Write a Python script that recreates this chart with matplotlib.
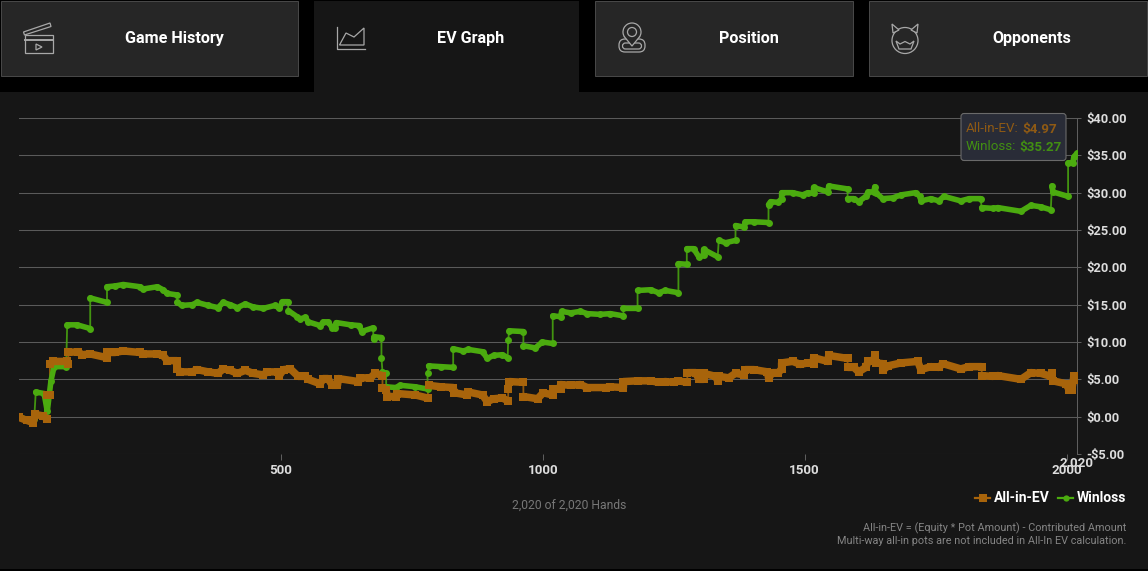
import numpy as np
import matplotlib
matplotlib.use("Agg")
import matplotlib.pyplot as plt
from matplotlib.patches import Rectangle, FancyBboxPatch, Circle, Polygon, Arc

plt.rcParams["font.family"] = ["Roboto", "DejaVu Sans"]

W, H = 1148, 571

ORANGE = "#a8640b"
GREEN = "#4bab0f"

tab_names = ["Game History", "EV Graph", "Position", "Opponents"]
y_ticks = [-5, 0, 5, 10, 15, 20, 25, 30, 35, 40]
y_labels = ["-$5.00", "$0.00", "$5.00", "$10.00", "$15.00", "$20.00", "$25.00", "$30.00", "$35.00", "$40.00"]
x_ticks = [500, 1000, 1500, 2000]
x_labels = ["500", "1000", "1500", "2000"]

ev_hands = [0, 15, 27, 31, 46, 54, 54, 59, 59, 65, 92, 94, 94, 113, 120, 136, 168, 168, 183, 199,
            231, 237, 264, 275, 283, 302, 302, 308, 331, 340, 361, 380, 390, 403, 417, 432, 447, 466, 474, 495,
            497, 505, 518, 533, 547, 552, 575, 581, 590, 598, 608, 610, 648, 652, 671, 680, 694, 694, 701, 703,
            719, 722, 757, 780, 782, 805, 829, 831, 856, 858, 885, 894, 906, 923, 934, 934, 936, 963, 963, 990,
            1001, 1019, 1019, 1034, 1034, 1053, 1072, 1085, 1120, 1129, 1154, 1154, 1181, 1206, 1221, 1234, 1250, 1259, 1276, 1276,
            1292, 1298, 1307, 1307, 1330, 1334, 1336, 1355, 1368, 1384, 1387, 1403, 1429, 1431, 1439, 1450, 1456, 1456, 1477, 1492,
            1506, 1517, 1517, 1544, 1546, 1582, 1582, 1594, 1603, 1617, 1621, 1632, 1634, 1636, 1649, 1649, 1659, 1684, 1716, 1722,
            1741, 1756, 1764, 1798, 1814, 1838, 1838, 1859, 1869, 1913, 1932, 1951, 1970, 1972, 1974, 1999, 2005, 2010, 2014, 2020]
ev_values = [-0.1, -0.5, -0.8, 0.3, 0.1, -0.3, 2.9, 2.9, 7.0, 7.4, 7.4, 7.1, 8.6, 8.7, 8.3, 8.4, 7.9, 8.6, 8.6, 8.8,
             8.6, 8.4, 8.4, 8.2, 7.5, 7.5, 6.4, 6.0, 6.0, 6.3, 6.0, 5.8, 6.4, 6.2, 5.8, 6.2, 5.8, 5.6, 6.0, 6.0,
             5.5, 6.3, 6.4, 5.4, 5.4, 5.0, 4.4, 5.1, 5.1, 4.2, 4.2, 5.1, 4.7, 5.2, 5.2, 5.8, 5.5, 3.9, 3.6, 2.7,
             2.7, 3.1, 2.9, 2.5, 4.2, 4.0, 3.9, 3.2, 2.9, 3.3, 2.9, 2.0, 2.4, 2.5, 2.1, 3.7, 4.7, 4.6, 2.7, 2.4,
             3.2, 2.9, 3.7, 3.7, 4.3, 4.2, 4.3, 3.9, 3.9, 4.0, 3.9, 4.7, 4.8, 4.8, 4.6, 4.7, 4.6, 4.8, 4.6, 5.9,
             5.9, 5.0, 5.0, 5.8, 5.4, 4.8, 5.4, 5.2, 5.8, 5.6, 6.3, 6.3, 6.0, 5.2, 5.9, 5.9, 6.4, 7.2, 7.4, 7.0,
             7.2, 7.1, 7.9, 7.4, 8.2, 7.8, 6.6, 6.6, 6.0, 6.6, 7.4, 7.5, 8.2, 7.2, 7.1, 6.2, 6.8, 7.2, 7.4, 6.3,
             6.7, 6.6, 7.1, 6.4, 6.7, 6.7, 5.5, 5.4, 5.5, 5.0, 5.9, 5.8, 5.4, 5.9, 4.8, 4.4, 3.6, 3.6, 5.4, 4.97]

win_hands = [0, 15, 29, 32, 48, 54, 61, 67, 90, 92, 111, 136, 136, 168, 168, 183, 199, 231, 237, 264,
             275, 283, 302, 302, 311, 331, 340, 361, 380, 390, 403, 417, 432, 447, 466, 489, 497, 503, 514, 514,
             531, 537, 547, 552, 575, 581, 590, 598, 604, 606, 633, 650, 654, 676, 677, 678, 692, 692, 694, 701,
             701, 719, 728, 757, 780, 780, 782, 805, 829, 829, 848, 858, 885, 894, 906, 923, 933, 934, 936, 963,
             963, 986, 999, 1019, 1019, 1034, 1036, 1053, 1072, 1085, 1110, 1129, 1154, 1154, 1181, 1181, 1206, 1221, 1234, 1259,
             1259, 1275, 1275, 1288, 1298, 1307, 1307, 1334, 1336, 1349, 1368, 1368, 1384, 1387, 1403, 1431, 1431, 1435, 1449, 1456,
             1456, 1477, 1496, 1506, 1517, 1517, 1544, 1546, 1582, 1582, 1594, 1603, 1617, 1621, 1632, 1634, 1636, 1649, 1668, 1684,
             1712, 1720, 1722, 1741, 1756, 1766, 1798, 1814, 1836, 1838, 1859, 1869, 1913, 1932, 1951, 1970, 1972, 1974, 2003, 2003,
             2012, 2014, 2020]
win_values = [0.0, -0.4, -0.3, 3.3, 3.1, 0.7, 4.8, 6.7, 6.7, 12.3, 12.3, 11.8, 15.9, 15.3, 17.4, 17.5, 17.7, 17.4, 17.1, 17.4,
              17.0, 16.5, 16.3, 15.3, 14.9, 15.0, 15.3, 14.9, 14.6, 15.3, 15.0, 14.6, 15.1, 14.7, 14.5, 14.9, 14.5, 15.4, 15.4, 14.2,
              13.4, 13.1, 13.3, 12.7, 12.2, 12.7, 12.7, 11.9, 11.9, 12.6, 12.3, 12.2, 11.4, 11.9, 10.4, 10.7, 10.6, 7.9, 6.0, 5.8,
              4.0, 3.9, 4.2, 4.0, 3.7, 5.8, 6.8, 6.7, 6.6, 9.1, 8.8, 9.0, 8.7, 7.8, 8.2, 8.3, 7.9, 10.3, 11.5, 11.4,
              9.5, 9.2, 10.0, 9.8, 13.5, 13.4, 14.1, 13.9, 14.1, 13.8, 13.7, 13.8, 13.5, 14.5, 14.5, 16.9, 17.0, 16.6, 16.9, 16.6,
              20.5, 20.4, 22.5, 22.5, 21.4, 21.6, 22.4, 21.4, 23.6, 23.3, 23.6, 25.6, 25.4, 26.1, 26.1, 26.0, 28.4, 28.8, 28.7, 29.2,
              30.0, 30.0, 29.7, 30.0, 29.9, 30.7, 30.1, 30.9, 30.5, 29.2, 29.2, 28.8, 29.5, 30.1, 30.1, 30.8, 30.0, 29.2, 29.3, 29.7,
              30.0, 29.5, 28.9, 29.2, 28.9, 29.5, 28.9, 29.2, 29.2, 28.0, 27.9, 28.0, 27.5, 28.3, 28.1, 27.7, 30.9, 30.1, 29.5, 34.0,
              34.0, 34.8, 35.27]


def split_jumps(hands, values):
    # big vertical moves get only the thin connector, the rest is drawn thick
    hands = np.array(hands, dtype=float)
    values = np.array(values, dtype=float)
    jump = (np.diff(hands) <= 3) & (np.abs(np.diff(values)) > 0.9)
    xs, ys = [hands[0]], [values[0]]
    for i, is_jump in enumerate(jump):
        if is_jump:
            xs.append(np.nan)
            ys.append(np.nan)
        xs.append(hands[i + 1])
        ys.append(values[i + 1])
    return hands, values, xs, ys


def draw_series(ax, hands, values, color, marker, lw, ms, cap, thin_z, thick_z):
    hands, values, xs, ys = split_jumps(hands, values)
    ax.plot(hands, values, color=color, lw=1.3, alpha=0.85, zorder=thin_z)
    ax.plot(xs, ys, color=color, lw=lw, solid_capstyle=cap, solid_joinstyle="round", zorder=thick_z)
    ax.plot(hands, values, ls="none", marker=marker, ms=ms, mfc=color, mec=color, mew=0, zorder=thick_z)


def draw_tabs(ui):
    ui.add_patch(Rectangle((0, 92), W, 477, fc="#161616", ec="none", zorder=1))
    ui.add_patch(Rectangle((314, 1), 265, 95, fc="#161616", ec="none", zorder=1))
    boxes = [(0.5, 297), (595, 258), (868.5, 278)]
    for left, width in boxes:
        ui.add_patch(Rectangle((left, 1), width, 74.5, fc="#262626", ec="#474747", lw=0.72, zorder=2))
    centers = [174, 471, 749, 1032]
    for name, cx in zip(tab_names, centers):
        ui.text(cx, 38.5, name, color="white", fontsize=11.6, fontweight="bold", ha="center", va="center", zorder=3)


def draw_icons(ui):
    st = dict(fc="none", ec="#a8a8a8", lw=0.9, zorder=3)
    # clapperboard
    ui.add_patch(Rectangle((25, 35), 28, 18, **st))
    ui.plot([25, 53], [40, 40], color="#a8a8a8", lw=1.4, zorder=3)
    ui.add_patch(Polygon([(36, 44), (36, 50), (42, 47)], closed=True, **st))
    ui.add_patch(Polygon([(23.5, 32), (50, 23), (51, 26.5), (24.5, 35)], closed=True, **st))
    # chart
    ui.plot([336.5, 336.5, 365], [27, 48.5, 48.5], color="#a8a8a8", lw=0.9, zorder=3)
    ui.add_patch(Polygon([(339.5, 45), (346, 33), (354, 37), (364, 28), (364, 45)], closed=True, **st))
    # map pin, base first so the pin covers it
    ui.add_patch(FancyBboxPatch((619, 39), 26, 13, boxstyle="round,pad=0,rounding_size=6", **st))
    ui.add_patch(FancyBboxPatch((622.5, 43), 19, 6, boxstyle="round,pad=0,rounding_size=3", **st))
    ui.add_patch(Polygon([(624, 36), (632, 46), (640, 36)], closed=True, fc="#262626", ec="none", zorder=3))
    ui.add_patch(Arc((632, 32), 18, 18, theta1=145, theta2=35, ec="#a8a8a8", lw=0.9, zorder=3))
    ui.plot([624.6, 632, 639.4], [37, 46, 37], color="#a8a8a8", lw=0.9, zorder=3)
    ui.add_patch(Circle((632, 32), 4.5, **st))
    # devil face
    ui.add_patch(Circle((905, 40.5), 13, **st))
    ui.add_patch(Polygon([(893, 33), (892, 24), (899, 30)], closed=True, fc="#262626", ec="#a8a8a8", lw=0.9, zorder=3))
    ui.add_patch(Polygon([(917, 33), (918, 24), (911, 30)], closed=True, fc="#262626", ec="#a8a8a8", lw=0.9, zorder=3))
    ui.add_patch(Polygon([(896, 41), (900, 44), (905, 41.5), (910, 44), (914, 41), (911, 49), (899, 49)], closed=True, **st))


def draw_tooltip(ui):
    ui.add_patch(FancyBboxPatch((961, 113.5), 105, 47, boxstyle="round,pad=0,rounding_size=3",
                                fc="#292c37", ec="#6a6a6a", lw=0.8, zorder=8))
    tip_orange = "#8f5a14"
    tip_green = "#428f12"
    ui.text(966, 129, "All-in-EV:", color=tip_orange, fontsize=9.6, va="center", zorder=9)
    ui.text(1022.5, 129, "$4.97", color=tip_orange, fontsize=9.6, fontweight="bold", va="center", zorder=9)
    ui.text(966, 147, "Winloss:", color=tip_green, fontsize=9.6, va="center", zorder=9)
    ui.text(1019, 147, "$35.27", color=tip_green, fontsize=9.6, fontweight="bold", va="center", zorder=9)


def draw_legend(ui):
    ui.plot([975, 990], [498, 498], color=ORANGE, lw=1.6, zorder=3)
    ui.plot([982.5], [498], marker="s", ms=5.5, color=ORANGE, mew=0, zorder=3)
    ui.text(994, 498, "All-in-EV", color="white", fontsize=10, fontweight="bold", va="center", zorder=3)
    ui.plot([1058, 1073], [498, 498], color=GREEN, lw=1.6, zorder=3)
    ui.plot([1065.5], [498], marker="o", ms=4.5, color=GREEN, mew=0, zorder=3)
    ui.text(1077, 498, "Winloss", color="white", fontsize=10, fontweight="bold", va="center", zorder=3)


fig = plt.figure(figsize=(W / 100, H / 100), dpi=100, facecolor="black")

ui = fig.add_axes([0, 0, 1, 1], zorder=0)
ui.set_xlim(0, W)
ui.set_ylim(H, 0)
ui.axis("off")

draw_tabs(ui)
draw_icons(ui)
draw_legend(ui)

ui.text(569.5, 505.5, "2,020 of 2,020 Hands", color="#777777", fontsize=8.7, ha="center", va="center", zorder=3)
ui.text(1126, 528, "All-in-EV = (Equity * Pot Amount) - Contributed Amount", color="#858585", fontsize=7.85,
        ha="right", va="center", zorder=3)
ui.text(1126, 541, "Multi-way all-in pots are not included in All-In EV calculation.", color="#858585", fontsize=7.85,
        ha="right", va="center", zorder=3)

# chart area, 19..1077 px wide and 118..454 px down
ax = fig.add_axes([19 / W, 1 - 454 / H, (1077 - 19) / W, (454 - 118) / H], zorder=1)
ax.patch.set_alpha(0)
ax.set_xlim(0, 2020)
ax.set_ylim(-5, 40)

for name, spine in ax.spines.items():
    spine.set_visible(name == "right")
ax.spines["right"].set_color("#5e5e5e")
ax.spines["right"].set_linewidth(0.72)

ax.yaxis.tick_right()
ax.set_yticks(y_ticks, y_labels)
ax.set_xticks(x_ticks, x_labels)
ax.grid(axis="y", color="#5a5a5a", lw=0.75, zorder=0)
ax.set_axisbelow(True)
ax.tick_params(axis="y", length=3, width=0.72, color="#5e5e5e", pad=3.4, labelcolor="#dddddd", labelsize=9.3)
ax.tick_params(axis="x", length=4, width=0.72, color="#5e5e5e", pad=3, labelcolor="#dddddd", labelsize=9.6)
for label in ax.get_xticklabels() + ax.get_yticklabels():
    label.set_fontweight("bold")
for label in ax.get_yticklabels():
    label.set_ha("left")

ax.annotate("2,020", xy=(2020, -5), xytext=(0, -6.5), textcoords="offset points", annotation_clip=False,
            color="#dddddd", fontsize=9.6, fontweight="bold", ha="center", va="center")

# orange band sits over the green one, green dots stay over the thin orange jumps
draw_series(ax, ev_hands, ev_values, ORANGE, "s", 5.4, 5.6, "butt", 3, 5)
draw_series(ax, win_hands, win_values, GREEN, "o", 4.0, 5.0, "round", 4, 4)

# tooltip has to sit on top of the lines
top = fig.add_axes([0, 0, 1, 1], zorder=2)
top.set_xlim(0, W)
top.set_ylim(H, 0)
top.axis("off")
draw_tooltip(top)

fig.savefig("out.png", dpi=100, facecolor="black")
plt.close(fig)
